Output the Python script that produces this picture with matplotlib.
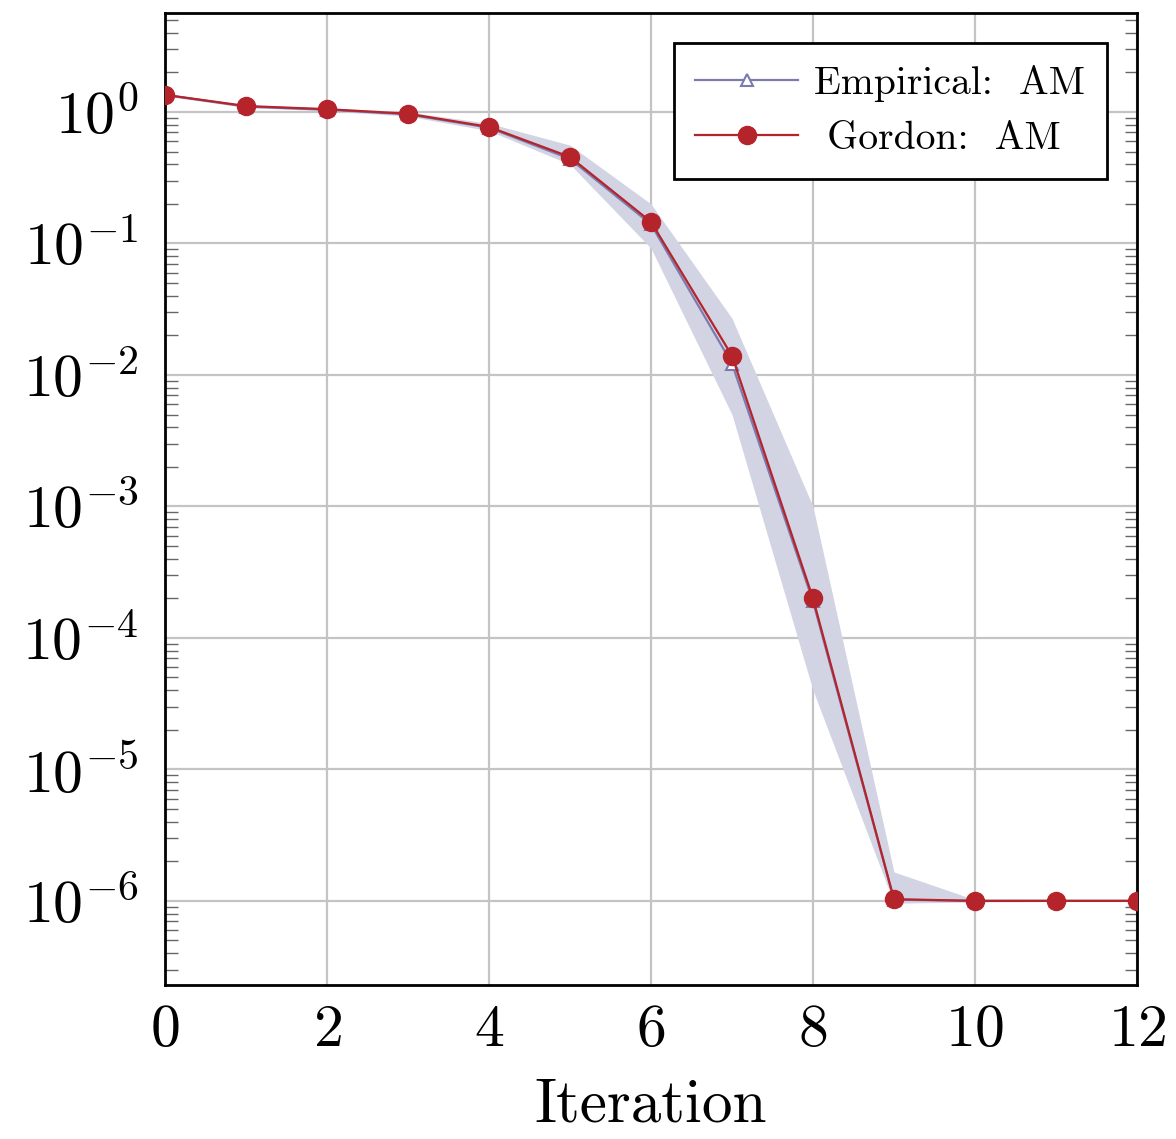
import numpy as np
import matplotlib
matplotlib.use("Agg")
import matplotlib.pyplot as plt
from matplotlib.ticker import LogLocator, NullFormatter

# Данные
iterations = [0, 1, 2, 3, 4, 5, 6, 7, 8, 9, 10, 11, 12]
gordon_am = [1.35, 1.11, 1.05, 0.97, 0.77, 0.455, 0.146, 0.0140, 2.0e-4, 1.03e-6, 1.0e-6, 1.0e-6, 1.0e-6]
empirical_am = [1.35, 1.10, 1.04, 0.96, 0.76, 0.44, 0.140, 0.0122, 1.9e-4, 1.02e-6, 1.0e-6, 1.0e-6, 1.0e-6]
band_upper = [1.38, 1.13, 1.08, 1.00, 0.82, 0.56, 0.20, 0.027, 1.0e-3, 1.66e-6, 1.02e-6, 1.01e-6, 1.01e-6]
band_lower = [1.32, 1.08, 1.02, 0.93, 0.72, 0.40, 0.092, 0.0050, 4.0e-5, 0.96e-6, 0.98e-6, 0.99e-6, 0.99e-6]
y_ticks = [1e-6, 1e-5, 1e-4, 1e-3, 1e-2, 1e-1, 1e0]

plt.rcParams["font.family"] = "serif"
plt.rcParams["font.serif"] = ["cmr10", "DejaVu Serif"]
plt.rcParams["mathtext.fontset"] = "cm"
plt.rcParams["axes.formatter.use_mathtext"] = True

fig = plt.figure(figsize=(11.76, 11.39), dpi=100)
ax = fig.add_axes([0.1403, 0.1352, 0.8265, 0.8534])

# Полоса разброса
ax.fill_between(iterations, band_lower, band_upper, color="#d3d4e3", linewidth=0, zorder=1)

ax.plot(iterations, empirical_am, color="#7b7bb0", linewidth=1.6, marker="^",
        markersize=9, markerfacecolor="white", markeredgecolor="#7b7bb0",
        markeredgewidth=1.5, label="Empirical:  AM", zorder=3)
ax.plot(iterations, gordon_am, color="#b5232b", linewidth=1.6, marker="o",
        markersize=13, markerfacecolor="#b5232b", markeredgecolor="#b5232b",
        label=" Gordon:  AM", zorder=4)

ax.set_yscale("log")
ax.set_xlim(0, 12)
ax.set_ylim(10 ** -6.64, 10 ** 0.753)
ax.set_xticks([0, 2, 4, 6, 8, 10, 12])
ax.set_yticks(y_ticks, [f"$10^{{{int(np.log10(v))}}}$" for v in y_ticks])
ax.yaxis.set_minor_locator(LogLocator(base=10, subs=np.arange(2, 10), numticks=20))
ax.yaxis.set_minor_formatter(NullFormatter())

ax.grid(True, which="major", color="#c4c4c4", linewidth=1.6, zorder=0)
ax.set_axisbelow(True)
ax.tick_params(axis="both", which="major", direction="in", length=0, labelsize=43)
ax.tick_params(axis="y", which="major", pad=19)
ax.tick_params(axis="x", which="major", pad=14)
ax.tick_params(axis="y", which="minor", direction="in", left=True, right=True,
               length=9, width=1, color="#666666")
for s in ax.spines.values():
    s.set_linewidth(2)
    s.set_color("black")

ax.set_xlabel("Iteration", fontsize=44, labelpad=14)

leg = ax.legend(loc="upper right", fontsize=28.5, fancybox=False, framealpha=1,
                edgecolor="black", borderpad=0.55, handlelength=2.6,
                handletextpad=0.4, labelspacing=0.48, borderaxespad=0,
                bbox_to_anchor=(0.969, 0.969))
leg.get_frame().set_linewidth(2)

fig.savefig("out.png", dpi=100)
